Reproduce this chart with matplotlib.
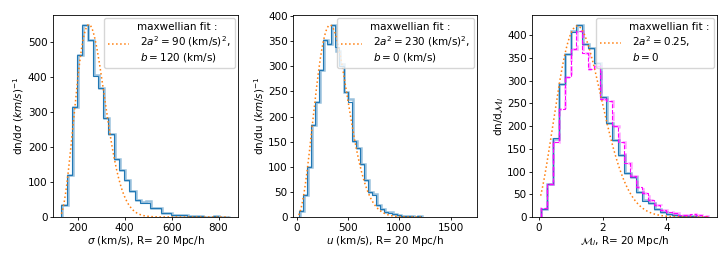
import numpy as np
import matplotlib
matplotlib.use("Agg")
import matplotlib.pyplot as plt

plt.rcParams["font.size"] = 7.5
plt.rcParams["axes.linewidth"] = 0.6
plt.rcParams["xtick.major.width"] = 0.6
plt.rcParams["ytick.major.width"] = 0.6
plt.rcParams["xtick.major.size"] = 2.5
plt.rcParams["ytick.major.size"] = 2.5

# --- sigma panel ---
sig_lo, sig_hi, sig_nbins = 130, 843, 32
sig_counts = [33, 119, 314, 463, 550, 506, 404, 368, 282, 238, 166, 133, 105, 74, 49, 40,
              40, 26, 26, 10, 10, 7, 5, 5, 3, 4, 4, 1, 1, 4, 1, 1]
sig_counts2 = [33, 119, 314, 463, 550, 506, 406, 368, 282, 238, 166, 133, 105, 74, 49, 42,
               45, 26, 26, 10, 12, 7, 5, 5, 3, 4, 4, 1, 1, 4, 1, 1]
sig_fit = dict(peak=550, a=90, b=120)

# --- u panel ---
u_lo, u_hi, u_nbins = 20, 1211, 30
u_counts = [12, 44, 100, 184, 229, 292, 353, 345, 383, 338, 300, 248, 228, 152, 137, 106,
            73, 50, 43, 24, 15, 10, 8, 6, 4, 1, 1, 1, 0, 1]
u_counts2 = [12, 44, 100, 184, 229, 292, 353, 345, 383, 330, 305, 248, 235, 152, 137, 106,
             73, 50, 45, 24, 15, 10, 10, 6, 4, 1, 1, 1, 0, 2]
u_fit = dict(peak=382, a=230, b=0)

# --- M_l panel ---
m_lo, m_hi, m_nbins = 0.05, 5.3, 28
m_counts = [18, 73, 173, 293, 359, 406, 423, 380, 372, 339, 263, 206, 169, 136, 96, 89,
            56, 36, 31, 18, 12, 7, 5, 3, 3, 2, 1, 1]
m_counts2 = [18, 73, 171, 293, 359, 408, 423, 380, 372, 339, 263, 206, 169, 136, 96, 89,
             56, 38, 31, 18, 12, 7, 5, 3, 3, 2, 1, 1]
mag_counts = [19, 72, 164, 237, 307, 370, 410, 361, 326, 332, 259, 255, 200, 165, 118, 90,
              66, 52, 38, 27, 16, 11, 8, 5, 4, 7, 4, 3]
m_fit = dict(peak=420, a=1.025, b=-0.25)

fit_labels = [
    "maxwellian fit :\n $2a^2=90$ (km/s)$^2$,\n $b=120$ (km/s)",
    "maxwellian fit :\n $2a^2=230$ (km/s)$^2$,\n $b=0$ (km/s)",
    "maxwellian fit :\n $2a^2=0.25$,\n $b=0$",
]
xlabels = ["$\\sigma$ (km/s), R= 20 Mpc/h", "$u$ (km/s), R= 20 Mpc/h",
           "$\\mathcal{M}_l$, R= 20 Mpc/h"]
ylabels = ["dn/d$\\sigma$ $(km/s)^{-1}$", "dn/du $(km/s)^{-1}$", "dn/d$\\mathcal{M}_l$"]


def maxwell(x, peak, a, b):
    xp = np.sqrt(2) * a
    r = np.clip(x - b, 0, None) / xp
    return peak * r**2 * np.exp(1 - r**2)


fig = plt.figure(figsize=(7.28, 2.6), dpi=100)
rects = [[0.0728, 0.1654, 0.2541, 0.777],
         [0.4029, 0.1654, 0.2527, 0.777],
         [0.7312, 0.1654, 0.2533, 0.777]]

panels = [
    (sig_lo, sig_hi, sig_nbins, sig_counts, sig_counts2, None, sig_fit, 4.0),
    (u_lo, u_hi, u_nbins, u_counts, u_counts2, None, u_fit, 8.0),
    (m_lo, m_hi, m_nbins, m_counts, m_counts2, mag_counts, m_fit, 0.02),
]

for i, (lo, hi, nb, c1, c2, cm, fit, shift) in enumerate(panels):
    ax = fig.add_axes(rects[i])
    edges = np.linspace(lo, hi, nb + 1)
    ax.stairs(c2, edges + shift, color="#1f77b4", alpha=0.45, lw=1.8)
    ax.stairs(c1, edges, color="#1f77b4", lw=0.8)
    if cm is not None:
        ax.stairs(cm, edges + shift, color="magenta", alpha=0.35, lw=1.8, ls="--")
        ax.stairs(cm, edges, color="magenta", lw=0.8, ls="--")
    xf = np.linspace(lo, hi, 400)
    ax.plot(xf, maxwell(xf, **fit), ls=":", color="#ff7f0e", lw=1.1, label=fit_labels[i])
    ax.set_xlabel(xlabels[i], labelpad=1)
    ax.set_ylabel(ylabels[i], labelpad=1)
    ax.legend(loc="upper right", fontsize=7.5, handlelength=2.0, borderpad=0.4,
              borderaxespad=0.3, labelspacing=0.3)
    if i == 0:
        ax.set_xticks([200, 400, 600, 800])
        ax.set_yticks([0, 100, 200, 300, 400, 500])
    elif i == 1:
        ax.set_xlim(-33, 1760)
        ax.set_xticks([0, 500, 1000, 1500])
        ax.set_yticks(np.arange(0, 401, 50))
    else:
        ax.set_xticks([0, 2, 4])
        ax.set_yticks(np.arange(0, 401, 50))
    ax.tick_params(pad=1.5)

fig.savefig("out.png", dpi=100)
